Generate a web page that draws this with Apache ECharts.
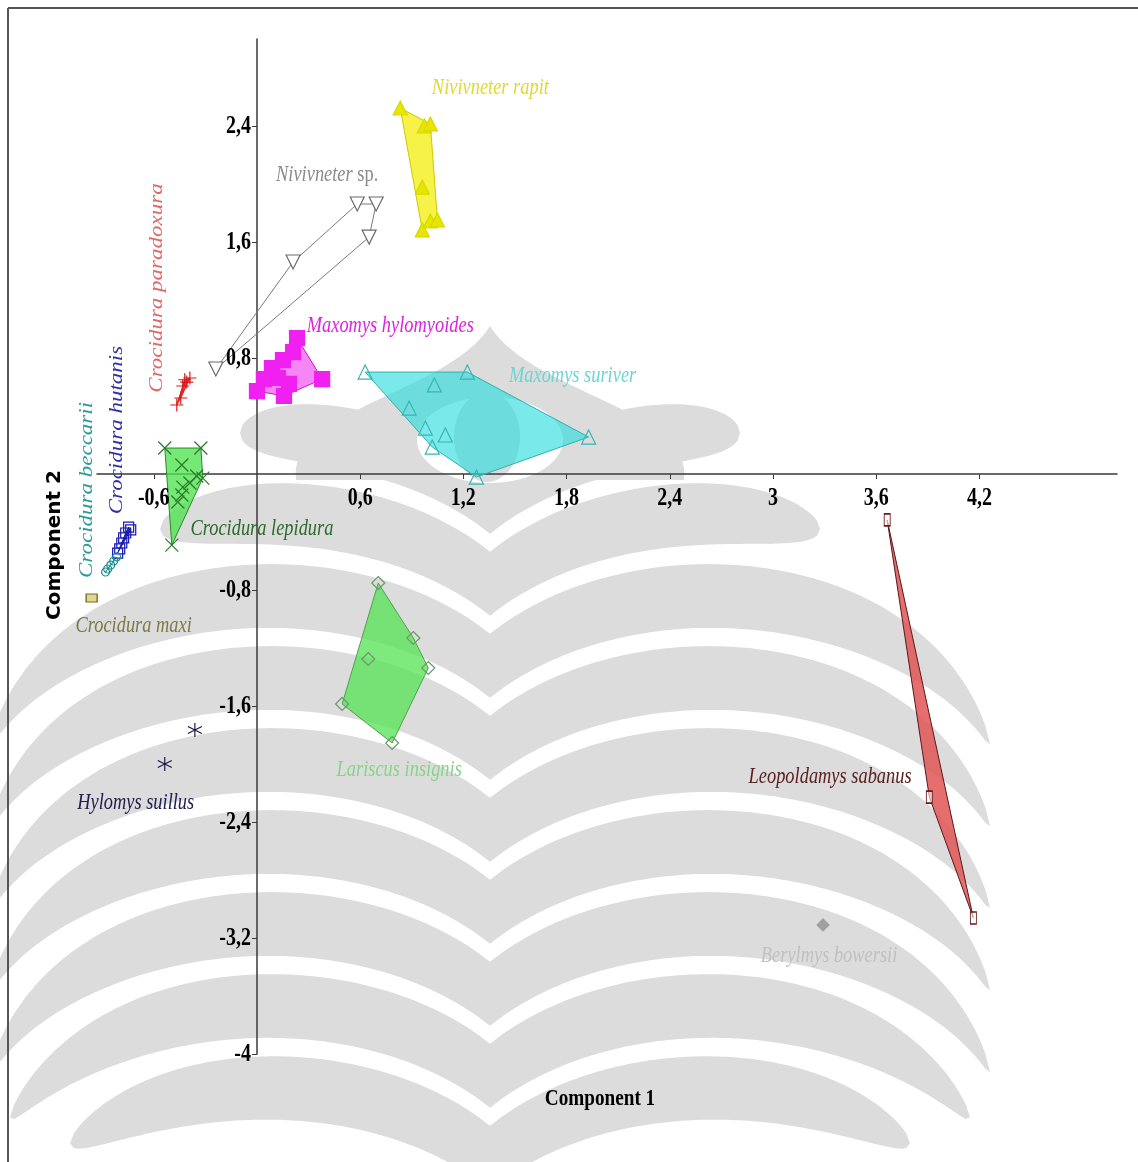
<!DOCTYPE html>
<html>
<head>
<meta charset="utf-8">
<title>PCA – Component 1 vs Component 2</title>
<script src="https://cdn.jsdelivr.net/npm/echarts@6/dist/echarts.min.js"></script>
<style>
  html, body { margin: 0; padding: 0; background: #ffffff; }
  #chart { width: 1138px; height: 1162px; }
</style>
</head>
<body>
<div id="chart"></div>
<script>
// ---- Tick values (comma used as decimal mark in labels) ----
const xTickValues = [-0.6, 0.6, 1.2, 1.8, 2.4, 3, 3.6, 4.2];
const yTickValues = [-4, -3.2, -2.4, -1.6, -0.8, 0.8, 1.6, 2.4];

// ---- PCA scores per species: [Component 1, Component 2] ----
const niviventerRapit = [[0.833, 2.524], [0.973, 2.400], [1.008, 2.414], [0.961, 1.979], [0.961, 1.683], [1.008, 1.745], [1.049, 1.752]];
const niviventerSp = [[0.583, 1.862], [0.693, 1.862], [0.652, 1.634], [0.210, 1.462], [-0.239, 0.724]];
const maxomysHylomyoides = [[0.233, 0.938], [0.210, 0.841], [0.151, 0.786], [0.087, 0.731], [0.122, 0.662], [0.0, 0.572], [0.157, 0.538], [0.186, 0.621], [0.379, 0.655], [0.040, 0.655]];
const maxomysSuriver = [[0.629, 0.703], [1.223, 0.703], [1.031, 0.614], [0.885, 0.455], [0.979, 0.317], [1.095, 0.269], [1.019, 0.186], [1.276, -0.021], [1.928, 0.255]];
const crociduraParadoxura = [[-0.390, 0.662], [-0.408, 0.634], [-0.431, 0.607], [-0.420, 0.650], [-0.443, 0.524], [-0.466, 0.476]];
const crociduraLepidura = [[-0.536, 0.179], [-0.326, 0.179], [-0.437, 0.062], [-0.315, -0.028], [-0.431, -0.090], [-0.437, -0.145], [-0.460, -0.193], [-0.390, -0.062], [-0.350, -0.014], [-0.495, -0.490]];
const crociduraHutanis = [[-0.746, -0.366], [-0.734, -0.386], [-0.763, -0.407], [-0.775, -0.441], [-0.786, -0.476], [-0.798, -0.517], [-0.810, -0.545]];
const crociduraBeccarii = [[-0.816, -0.572], [-0.833, -0.600], [-0.850, -0.628], [-0.868, -0.655], [-0.880, -0.676]];
const crociduraMaxi = [[-0.961, -0.855]];
const lariscusInsignis = [[0.705, -0.752], [0.909, -1.131], [0.647, -1.276], [0.996, -1.338], [0.495, -1.586], [0.786, -1.855]];
const hylomysSuillus = [[-0.361, -1.766], [-0.536, -2.000]];
const leopoldamysSabanus = [[3.664, -0.317], [3.909, -2.228], [4.165, -3.062]];
const berylmysBowersii = [[3.291, -3.110]];

// ---- Drawing styles per species ----
const PLUS = 'path://M0,5L10,5M5,0L5,10';
const CROSS = 'path://M0,0L10,10M10,0L0,10';
const STAR = 'path://M5,0L5,10M0,2.5L10,7.5M0,7.5L10,2.5';

const groups = [
  { name: 'Niviventer rapit', data: niviventerRapit, symbol: 'triangle', size: 14, fill: '#e6e600', stroke: '#d8d800',
    hull: { fill: 'rgba(245,240,40,0.85)', stroke: '#d0c800' },
    label: { text: 'Nivivneter rapit', at: [1.357, 2.662], color: '#e2d830' } },
  { name: 'Niviventer sp.', data: niviventerSp, symbol: 'triangle', rotate: 180, size: 14, fill: '#ffffff', stroke: '#6a6a6a',
    hull: { fill: 'rgba(255,255,255,0)', stroke: '#7a7a7a' },
    label: { rich: true, at: [0.408, 2.062], color: '#8a8a8a' } },
  { name: 'Maxomys hylomyoides', data: maxomysHylomyoides, symbol: 'rect', size: 15, fill: '#f020f0', stroke: '#f020f0',
    hull: { fill: 'rgba(245,120,245,0.9)', stroke: '#c818c8' },
    label: { text: 'Maxomys hylomyoides', at: [0.775, 1.021], color: '#e020e0' } },
  { name: 'Maxomys suriver', data: maxomysSuriver, symbol: 'triangle', size: 14, fill: 'rgba(0,0,0,0)', stroke: '#38b4b4',
    hull: { fill: 'rgba(40,220,220,0.62)', stroke: '#30b0b0' },
    label: { text: 'Maxomys suriver', at: [1.835, 0.676], color: '#6cd4d4' } },
  { name: 'Crocidura paradoxura', data: crociduraParadoxura, symbol: PLUS, size: 13, fill: 'none', stroke: '#d81818',
    hull: { fill: 'rgba(225,40,40,0.85)', stroke: '#d81818' },
    label: { text: 'Crocidura paradoxura', at: [-0.583, 1.283], color: '#e06868', rotate: 90 } },
  { name: 'Crocidura lepidura', data: crociduraLepidura, symbol: CROSS, size: 13, fill: 'none', stroke: '#2a7a2a',
    hull: { fill: 'rgba(80,225,80,0.78)', stroke: '#2a8a2a' },
    label: { text: 'Crocidura lepidura', at: [0.029, -0.379], color: '#2a6a2a' } },
  { name: 'Crocidura hutanis', data: crociduraHutanis, symbol: 'rect', size: 10, fill: 'rgba(0,0,0,0)', stroke: '#1818b0',
    hull: { fill: 'rgba(20,20,170,0.9)', stroke: '#1818b0' },
    label: { text: 'Crocidura hutanis', at: [-0.810, 0.303], color: '#3030a8', rotate: 90 } },
  { name: 'Crocidura beccarii', data: crociduraBeccarii, symbol: 'circle', size: 8, fill: 'rgba(0,0,0,0)', stroke: '#1c9090',
    hull: { fill: 'rgba(30,140,140,0.85)', stroke: '#1c9090' },
    label: { text: 'Crocidura beccarii', at: [-0.990, -0.110], color: '#2a9a9a', rotate: 90 } },
  { name: 'Crocidura maxi', data: crociduraMaxi, symbol: 'rect', size: [11, 8], fill: '#e0d890', stroke: '#767020',
    label: { text: 'Crocidura maxi', at: [-0.717, -1.048], color: '#7a7a48' } },
  { name: 'Lariscus insignis', data: lariscusInsignis, symbol: 'diamond', size: 13, fill: 'rgba(0,0,0,0)', stroke: '#6a9a6a',
    hull: { fill: 'rgba(90,228,90,0.78)', stroke: '#50a050' },
    label: { text: 'Lariscus insignis', at: [0.827, -2.041], color: '#86d486' } },
  { name: 'Hylomys suillus', data: hylomysSuillus, symbol: STAR, size: 14, fill: 'none', stroke: '#1a1a48',
    label: { text: 'Hylomys suillus', at: [-0.705, -2.269], color: '#202050' } },
  { name: 'Leopoldamys sabanus', data: leopoldamysSabanus, symbol: 'rect', size: [6, 12], fill: 'rgba(255,255,255,0.6)', stroke: '#6a1a1a',
    hull: { fill: 'rgba(225,85,85,0.85)', stroke: '#5a1818' },
    label: { text: 'Leopoldamys sabanus', at: [3.332, -2.090], color: '#5a2020' } },
  { name: 'Berylmys bowersii', data: berylmysBowersii, symbol: 'diamond', size: 12, fill: '#a0a0a0', stroke: '#a0a0a0',
    label: { text: 'Berylmys bowersii', at: [3.326, -3.324], color: '#c0c0c0' } }
];

// Convex hull (monotone chain) in data space
function convexHull(points) {
  const p = points.slice().sort((a, b) => a[0] - b[0] || a[1] - b[1]);
  if (p.length < 3) return p;
  const cross = (o, a, b) => (a[0] - o[0]) * (b[1] - o[1]) - (a[1] - o[1]) * (b[0] - o[0]);
  const lower = [];
  for (const pt of p) {
    while (lower.length >= 2 && cross(lower[lower.length - 2], lower[lower.length - 1], pt) <= 0) lower.pop();
    lower.push(pt);
  }
  const upper = [];
  for (let i = p.length - 1; i >= 0; i--) {
    const pt = p[i];
    while (upper.length >= 2 && cross(upper[upper.length - 2], upper[upper.length - 1], pt) <= 0) upper.pop();
    upper.push(pt);
  }
  upper.pop(); lower.pop();
  return lower.concat(upper);
}

const fmt = v => String(v).replace('.', ',');
const SERIF = '"Liberation Serif", "Times New Roman", serif';
const SQUEEZE = 0.8; // narrow type, as in the printed figure

const series = [];

// Hull polygons
groups.filter(g => g.hull && g.data.length >= 3).forEach(g => {
  const hullPts = convexHull(g.data);
  series.push({
    type: 'custom',
    name: g.name + ' hull',
    coordinateSystem: 'cartesian2d',
    data: g.data,
    silent: true,
    clip: false,
    z: 2,
    renderItem: (params, api) => {
      if (params.dataIndex !== 0) return null;
      return {
        type: 'polygon',
        shape: { points: hullPts.map(pt => api.coord(pt)) },
        style: { fill: g.hull.fill, stroke: g.hull.stroke, lineWidth: 1 }
      };
    }
  });
});

// Specimen markers
groups.forEach(g => {
  series.push({
    type: 'scatter',
    name: g.name,
    data: g.data,
    symbol: g.symbol,
    symbolSize: g.size,
    symbolRotate: g.rotate || 0,
    clip: false,
    z: 3,
    itemStyle: { color: g.fill, borderColor: g.stroke, borderWidth: 1.2, opacity: 1 },
    silent: true
  });
});

// Species name labels
series.push({
  type: 'custom',
  name: 'species labels',
  coordinateSystem: 'cartesian2d',
  silent: true,
  clip: false,
  z: 4,
  data: groups.map(g => g.label.at),
  renderItem: (params, api) => {
    const l = groups[params.dataIndex].label;
    const pt = api.coord([api.value(0), api.value(1)]);
    const vertical = !!l.rotate;
    const style = {
      fill: l.color,
      font: 'italic 23px ' + SERIF,
      align: 'center',
      verticalAlign: 'middle'
    };
    if (l.rich) {
      style.text = '{i|Nivivneter} {n|sp.}';
      style.rich = {
        i: { fill: l.color, font: 'italic 23px ' + SERIF },
        n: { fill: l.color, font: 'normal 23px ' + SERIF }
      };
    } else {
      style.text = l.text;
    }
    return {
      type: 'text',
      x: pt[0], y: pt[1],
      rotation: vertical ? Math.PI / 2 : 0,
      scaleX: vertical ? 1 : SQUEEZE,
      scaleY: vertical ? SQUEEZE : 1,
      style: style
    };
  }
});

// Tick labels placed on the axes that cross at the origin
const tickFont = 'bold 25px ' + SERIF;
series.push({
  type: 'custom',
  name: 'x tick labels',
  coordinateSystem: 'cartesian2d',
  silent: true, clip: false, z: 4,
  data: xTickValues.map(v => [v, 0]),
  renderItem: (params, api) => {
    const pt = api.coord([api.value(0), api.value(1)]);
    return { type: 'text', x: pt[0], y: pt[1] + 12, scaleX: SQUEEZE,
      style: { text: fmt(api.value(0)), font: tickFont, fill: '#000', align: 'center', verticalAlign: 'top' } };
  }
});
series.push({
  type: 'custom',
  name: 'y tick labels',
  coordinateSystem: 'cartesian2d',
  silent: true, clip: false, z: 4,
  data: yTickValues.map(v => [0, v]),
  renderItem: (params, api) => {
    const pt = api.coord([api.value(0), api.value(1)]);
    return { type: 'text', x: pt[0] - 6, y: pt[1] + 1, scaleX: SQUEEZE,
      style: { text: fmt(api.value(1)), font: tickFont, fill: '#000', align: 'right', verticalAlign: 'middle' } };
  }
});

// ---- Faint emblem behind the plot ----
const WM = '#dcdcdc';
const STEM = 490;
// A drooping leaf from the centre stem outwards, tapering to a rounded tip
function leaf(side, peak, reach, thick) {
  const cx = STEM + side * 220, rx = 290, ry = 200;
  const top = [], bot = [];
  const n = 90;
  for (let i = 0; i <= n; i++) {
    const s = Math.pow(i / n, 0.8);
    const x = STEM + side * reach * s;
    const t = (x - cx) / rx;
    const mid = peak + ry * (1 - Math.sqrt(Math.max(0, 1 - t * t))) + thick / 2;
    const half = thick / 2 * Math.sqrt(Math.max(0, 1 - Math.pow(s, 6)));
    top.push([x, mid - half]);
    bot.push([x, mid + half]);
  }
  return top.concat(bot.reverse());
}
function ellipsePts(cx, cy, rx, ry) {
  const pts = [];
  for (let i = 0; i < 60; i++) {
    const a = i / 60 * Math.PI * 2;
    pts.push([cx + rx * Math.cos(a), cy + ry * Math.sin(a)]);
  }
  return pts;
}
function cubicPts(p0, p1, p2, p3, n) {
  const pts = [];
  for (let i = 0; i <= n; i++) {
    const t = i / n, u = 1 - t;
    pts.push([
      u * u * u * p0[0] + 3 * u * u * t * p1[0] + 3 * u * t * t * p2[0] + t * t * t * p3[0],
      u * u * u * p0[1] + 3 * u * u * t * p1[1] + 3 * u * t * t * p2[1] + t * t * t * p3[1]
    ]);
  }
  return pts;
}
const emblem = [];
const leaves = [
  { pk: 400, reach: 250 }, { pk: 482, reach: 330 }, { pk: 564, reach: 500 }, { pk: 646, reach: 500 },
  { pk: 728, reach: 500 }, { pk: 810, reach: 500 }, { pk: 892, reach: 500 }, { pk: 974, reach: 480 },
  { pk: 1056, reach: 420 }
];
leaves.forEach(l => {
  [-1, 1].forEach(side => {
    emblem.push({ type: 'polygon', z: -10, silent: true, shape: { points: leaf(side, l.pk, l.reach, 64) }, style: { fill: WM } });
  });
});
const domePts = cubicPts([296, 480], [286, 410], [450, 392], [490, 326], 30)
  .concat(cubicPts([490, 326], [530, 392], [694, 410], [684, 480], 30));
emblem.push({ type: 'polygon', z: -9, silent: true, shape: { points: domePts }, style: { fill: WM } });
emblem.push({ type: 'polygon', z: -8, silent: true, shape: { points: ellipsePts(490, 440, 73, 43) }, style: { fill: '#ffffff' } });
emblem.push({ type: 'polygon', z: -7, silent: true, shape: { points: ellipsePts(487, 437, 33, 45) }, style: { fill: WM } });

const chart = echarts.init(document.getElementById('chart'), null, { renderer: 'canvas' });
chart.setOption({
  backgroundColor: '#ffffff',
  animation: false,
  grid: { left: 97, right: 21, top: 39, bottom: 108, containLabel: false },
  xAxis: {
    type: 'value',
    min: -0.93,
    max: 5,
    splitLine: { show: false },
    axisLine: { onZero: true, lineStyle: { color: '#3a3a3a', width: 1.5 } },
    axisTick: { show: true, length: 5, customValues: xTickValues, lineStyle: { color: '#3a3a3a' } },
    axisLabel: { show: false }
  },
  yAxis: {
    type: 'value',
    min: -4,
    max: 3,
    splitLine: { show: false },
    axisLine: { onZero: true, lineStyle: { color: '#3a3a3a', width: 1.5 } },
    axisTick: { show: true, length: 5, customValues: yTickValues, lineStyle: { color: '#3a3a3a' } },
    axisLabel: { show: false }
  },
  graphic: emblem.concat([
    { type: 'line', shape: { x1: 8, y1: 8, x2: 1138, y2: 8 }, style: { stroke: '#555', lineWidth: 2 }, z: 10 },
    { type: 'line', shape: { x1: 8, y1: 8, x2: 8, y2: 1162 }, style: { stroke: '#555', lineWidth: 2 }, z: 10 },
    { type: 'text', x: 600, y: 1099, scaleX: SQUEEZE, style: { text: 'Component 1', font: 'bold 24px ' + SERIF, fill: '#000', align: 'center', verticalAlign: 'middle' }, z: 10 },
    { type: 'text', x: 55, y: 545, rotation: Math.PI / 2, style: { text: 'Component 2', font: 'bold 20px "DejaVu Sans", sans-serif', fill: '#000', align: 'center', verticalAlign: 'middle' }, z: 10 }
  ]),
  series: series
});
</script>
</body>
</html>
